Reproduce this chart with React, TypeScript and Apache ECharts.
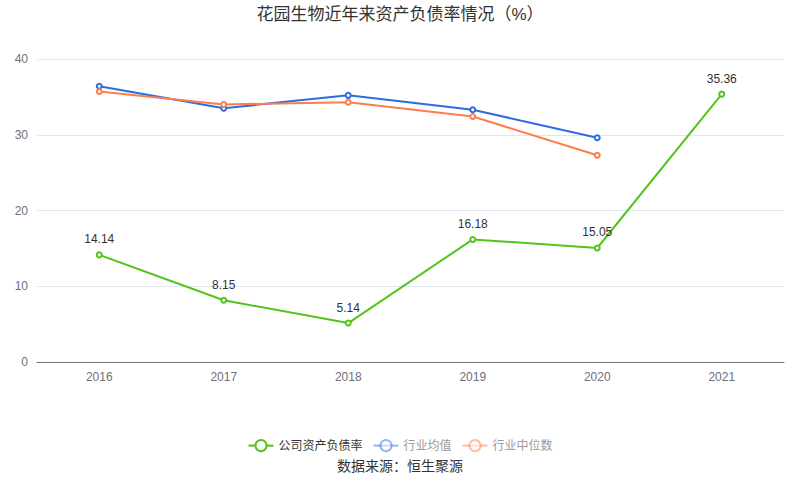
import React, { useEffect, useRef } from "react";
import * as echarts from "echarts";

const years = ["2016", "2017", "2018", "2019", "2020", "2021"];
const companyRatio = [14.14, 8.15, 5.14, 16.18, 15.05, 35.36];
const industryMean = [36.4, 33.5, 35.2, 33.3, 29.6, null];
const industryMedian = [35.7, 34.0, 34.3, 32.4, 27.3, null];
const yTicks = { min: 0, max: 40, interval: 10 };

const FONT = "'Liberation Sans', Arial, 'Noto Sans CJK SC', sans-serif";

export default function App() {
  const ref = useRef<HTMLDivElement>(null);
  useEffect(() => {
    document.body.style.margin = "0";
    if (!ref.current) return;
    const chart = echarts.init(ref.current, undefined, { renderer: "svg" });
    chart.setOption({
      animation: false,
      textStyle: { fontFamily: FONT },
      title: {
        text: "花园生物近年来资产负债率情况（%）",
        left: "center",
        top: 1,
        textStyle: { fontSize: 17, fontWeight: "normal", color: "#333", fontFamily: FONT },
      },
      legend: {
        top: 434,
        left: "center",
        itemWidth: 25,
        itemHeight: 14,
        itemGap: 10,
        textStyle: { fontSize: 12, color: "#333", fontFamily: FONT },
        data: [
          { name: "公司资产负债率" },
          { name: "行业均值", itemStyle: { opacity: 0.5 }, lineStyle: { opacity: 0.5 }, textStyle: { color: "#999" } },
          { name: "行业中位数", itemStyle: { opacity: 0.5 }, lineStyle: { opacity: 0.5 }, textStyle: { color: "#999" } },
        ],
      },
      graphic: [
        {
          type: "text",
          left: "center",
          top: 459,
          style: { text: "数据来源：恒生聚源", fontSize: 14, fill: "#333", fontFamily: FONT },
        },
      ],
      grid: { left: 37, right: 16, top: 59, bottom: 139 },
      xAxis: {
        type: "category",
        data: years,
        boundaryGap: true,
        axisTick: { alignWithLabel: true, lineStyle: { color: "#6e7079" } },
        axisLine: { lineStyle: { color: "#6e7079" } },
        axisLabel: { color: "#6e7079", fontSize: 12, margin: 9 },
      },
      yAxis: {
        type: "value",
        min: yTicks.min,
        max: yTicks.max,
        interval: yTicks.interval,
        axisLabel: { color: "#6e7079", fontSize: 12, margin: 9 },
        splitLine: { lineStyle: { color: "#e0e6f1" } },
        axisLine: { show: false },
        axisTick: { show: false },
      },
      series: [
        {
          name: "公司资产负债率",
          type: "line",
          data: companyRatio,
          symbol: "emptyCircle",
          symbolSize: 5,
          itemStyle: { color: "#52c41a" },
          lineStyle: { width: 2, color: "#52c41a" },
          label: { show: true, position: "top", color: "#333", fontSize: 12, distance: 6 },
          z: 3,
        },
        {
          name: "行业均值",
          type: "line",
          data: industryMean,
          symbol: "emptyCircle",
          symbolSize: 5,
          itemStyle: { color: "#2b6de0" },
          lineStyle: { width: 2, color: "#2b6de0" },
        },
        {
          name: "行业中位数",
          type: "line",
          data: industryMedian,
          symbol: "emptyCircle",
          symbolSize: 5,
          itemStyle: { color: "#fc7e4c" },
          lineStyle: { width: 2, color: "#fc7e4c" },
        },
      ],
    });
    return () => chart.dispose();
  }, []);
  return <div ref={ref} style={{ width: 800, height: 501 }} />;
}
